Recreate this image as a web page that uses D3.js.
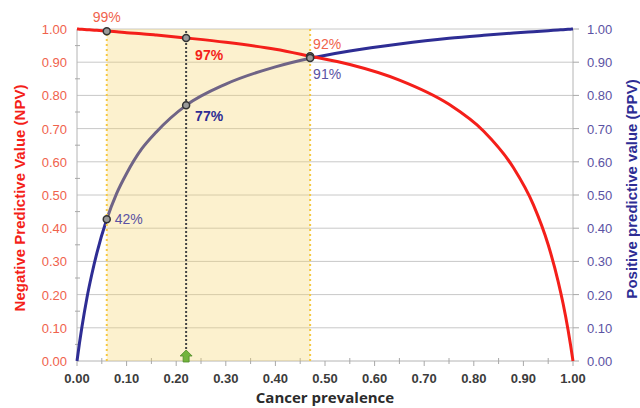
<!DOCTYPE html>
<html>
<head>
<meta charset="utf-8">
<script src="https://cdn.jsdelivr.net/npm/d3@7.9.0/dist/d3.min.js"></script>
<style>
  body { margin: 0; background: #fff; }
  svg { display: block; font-family: "Liberation Sans", Arial, sans-serif; }
</style>
</head>
<body>
<svg id="chart" width="640" height="408"></svg>
<script>
// values
const prevalence = [0, 0.005, 0.01, 0.02, 0.03, 0.04, 0.06, 0.08, 0.10, 0.13, 0.16, 0.22, 0.30, 0.40, 0.47, 0.55, 0.65, 0.75, 0.82, 0.88, 0.92, 0.95, 0.97, 0.98, 0.99, 0.995, 1.0];
const npv = [1, 0.9995, 0.999, 0.998, 0.997, 0.996, 0.994, 0.992, 0.989, 0.986, 0.982, 0.973, 0.960, 0.939, 0.918, 0.893, 0.846, 0.773, 0.692, 0.582, 0.471, 0.350, 0.240, 0.173, 0.094, 0.049, 0];
const ppv = [0, 0.054, 0.103, 0.19, 0.262, 0.325, 0.427, 0.505, 0.565, 0.638, 0.69, 0.77, 0.834, 0.886, 0.912, 0.934, 0.955, 0.972, 0.981, 0.988, 0.992, 0.995, 0.997, 0.998, 0.999, 0.9995, 1];

const markers = [0.06, 0.22, 0.47];
const markerNpv = [0.993, 0.973, 0.918];
const markerPpv = [0.427, 0.77, 0.913];
const npvLabels = ['99%', '97%', '92%'];
const ppvLabels = ['42%', '77%', '91%'];

const xTicks = d3.range(0, 1.001, 0.1);
const yTicks = d3.range(0, 1.001, 0.1);

const red = '#f41f1a', blue = '#2e2d94';
const redText = '#f0624c', blueText = '#5b52a3';

const margin = { left: 77, right: 67, top: 29, bottom: 47 };
const W = 640, H = 408;
const x = d3.scaleLinear().domain([0, 1]).range([margin.left, W - margin.right]);
const y = d3.scaleLinear().domain([0, 1]).range([H - margin.bottom, margin.top]);

const svg = d3.select('#chart');

// grid
svg.append('g').selectAll('line').data(yTicks.slice(1)).join('line')
  .attr('x1', x(0)).attr('x2', x(1))
  .attr('y1', d => y(d)).attr('y2', d => y(d))
  .attr('stroke', '#c8c8c8').attr('stroke-width', 1);

// axes lines
svg.append('line').attr('x1', x(0)).attr('x2', x(0)).attr('y1', y(0)).attr('y2', y(1)).attr('stroke', '#b4b4b4');
svg.append('line').attr('x1', x(1)).attr('x2', x(1)).attr('y1', y(0)).attr('y2', y(1)).attr('stroke', '#b4b4b4');
svg.append('line').attr('x1', x(0)).attr('x2', x(1)).attr('y1', y(0)).attr('y2', y(0)).attr('stroke', '#b4b4b4');

// ticks
const halfs = d3.range(0.05, 1, 0.1);
svg.append('g').selectAll('line').data(halfs).join('line')
  .attr('x1', d => x(d)).attr('x2', d => x(d)).attr('y1', y(0) - 3).attr('y2', y(0) + 3)
  .attr('stroke', '#a8a8a8');
svg.append('g').selectAll('line').data(xTicks).join('line')
  .attr('x1', d => x(d)).attr('x2', d => x(d)).attr('y1', y(0)).attr('y2', y(0) + 5)
  .attr('stroke', '#a8a8a8');
svg.append('g').selectAll('line').data(halfs).join('line')
  .attr('x1', x(0) - 2).attr('x2', x(0) + 3).attr('y1', d => y(d)).attr('y2', d => y(d))
  .attr('stroke', '#a8a8a8');
svg.append('g').selectAll('line').data(yTicks).join('line')
  .attr('x1', x(1)).attr('x2', x(1) + 6).attr('y1', d => y(d)).attr('y2', d => y(d))
  .attr('stroke', '#a8a8a8');

// tick labels
svg.append('g').selectAll('text').data(xTicks).join('text')
  .attr('x', d => x(d)).attr('y', y(0) + 22)
  .attr('text-anchor', 'middle').attr('font-size', 13).attr('font-weight', 'bold')
  .attr('fill', '#3c3c3c').text(d => d.toFixed(2));
svg.append('g').selectAll('text').data(yTicks).join('text')
  .attr('x', x(0) - 10).attr('y', d => y(d) + 5)
  .attr('text-anchor', 'end').attr('font-size', 13)
  .attr('fill', redText).text(d => d.toFixed(2));
svg.append('g').selectAll('text').data(yTicks).join('text')
  .attr('x', x(1) + 14).attr('y', d => y(d) + 5)
  .attr('text-anchor', 'start').attr('font-size', 13)
  .attr('fill', blueText).text(d => d.toFixed(2));

// titles
svg.append('text').attr('x', (x(0) + x(1)) / 2).attr('y', 403)
  .attr('text-anchor', 'middle').attr('font-family', 'Open Sans').attr('font-weight', 'bold')
  .attr('font-size', 15).attr('fill', '#2b2b2b').text('Cancer prevalence');
svg.append('text').attr('transform', `translate(25,198) rotate(-90)`)
  .attr('text-anchor', 'middle').attr('font-weight', 'bold')
  .attr('font-size', 15).attr('fill', red).text('Negative Predictive Value (NPV)');
svg.append('text').attr('transform', `translate(637,189) rotate(-90)`)
  .attr('text-anchor', 'middle').attr('font-weight', 'bold')
  .attr('font-size', 15).attr('fill', blue).text('Positive predictive value (PPV)');

// curves: PPV under the shading, NPV above it
const line = d3.line().x((d, i) => x(prevalence[i])).y(d => y(d)).curve(d3.curveMonotoneX);
svg.append('path').attr('d', line(ppv)).attr('fill', 'none').attr('stroke', blue).attr('stroke-width', 3);

svg.append('rect')
  .attr('x', x(markers[0])).attr('y', y(1))
  .attr('width', x(markers[2]) - x(markers[0])).attr('height', y(0) - y(1))
  .attr('fill', '#f7d56a').attr('opacity', 0.33);

svg.append('path').attr('d', line(npv)).attr('fill', 'none').attr('stroke', red).attr('stroke-width', 3);

// dotted verticals
svg.append('g').selectAll('line').data([markers[0], markers[2]]).join('line')
  .attr('x1', d => x(d)).attr('x2', d => x(d)).attr('y1', y(0)).attr('y2', y(1))
  .attr('stroke', '#f5c842').attr('stroke-width', 2).attr('stroke-dasharray', '2,3');
svg.append('line')
  .attr('x1', x(markers[1])).attr('x2', x(markers[1])).attr('y1', y(0)).attr('y2', y(1))
  .attr('stroke', '#444').attr('stroke-width', 2).attr('stroke-dasharray', '2,2');

// markers
const dots = markers.flatMap((m, i) => [[m, markerNpv[i]], [m, markerPpv[i]]]);
svg.append('g').selectAll('circle').data(dots).join('circle')
  .attr('cx', d => x(d[0])).attr('cy', d => y(d[1])).attr('r', 3.5)
  .attr('fill', '#9a9a9a').attr('stroke', '#333').attr('stroke-width', 1.5);

// arrow at selected prevalence
const ax = x(markers[1]), ay = y(0);
svg.append('path')
  .attr('d', `M${ax},${ay - 11} L${ax + 6},${ay - 5} L${ax + 3},${ay - 5} L${ax + 3},${ay + 1} L${ax - 3},${ay + 1} L${ax - 3},${ay - 5} L${ax - 6},${ay - 5} Z`)
  .attr('fill', '#72b43c').attr('stroke', '#4f8a2a').attr('stroke-width', 0.8);

// percentage labels
const lab = [
  { t: npvLabels[0], x: x(markers[0]), y: y(markerNpv[0]) - 9, c: redText, w: 'normal', a: 'middle' },
  { t: npvLabels[1], x: x(markers[1]) + 9, y: y(markerNpv[1]) + 22, c: red, w: 'bold', a: 'start' },
  { t: npvLabels[2], x: x(markers[2]) + 3, y: y(markerNpv[2]) - 7, c: redText, w: 'normal', a: 'start' },
  { t: ppvLabels[0], x: x(markers[0]) + 8, y: y(markerPpv[0]) + 5, c: blueText, w: 'normal', a: 'start' },
  { t: ppvLabels[1], x: x(markers[1]) + 9, y: y(markerPpv[1]) + 16, c: blue, w: 'bold', a: 'start' },
  { t: ppvLabels[2], x: x(markers[2]) + 3, y: y(markerPpv[2]) + 21, c: blueText, w: 'normal', a: 'start' }
];
svg.append('g').selectAll('text').data(lab).join('text')
  .attr('x', d => d.x).attr('y', d => d.y).attr('text-anchor', d => d.a)
  .attr('font-size', 14).attr('font-weight', d => d.w).attr('fill', d => d.c)
  .text(d => d.t);
</script>
</body>
</html>
